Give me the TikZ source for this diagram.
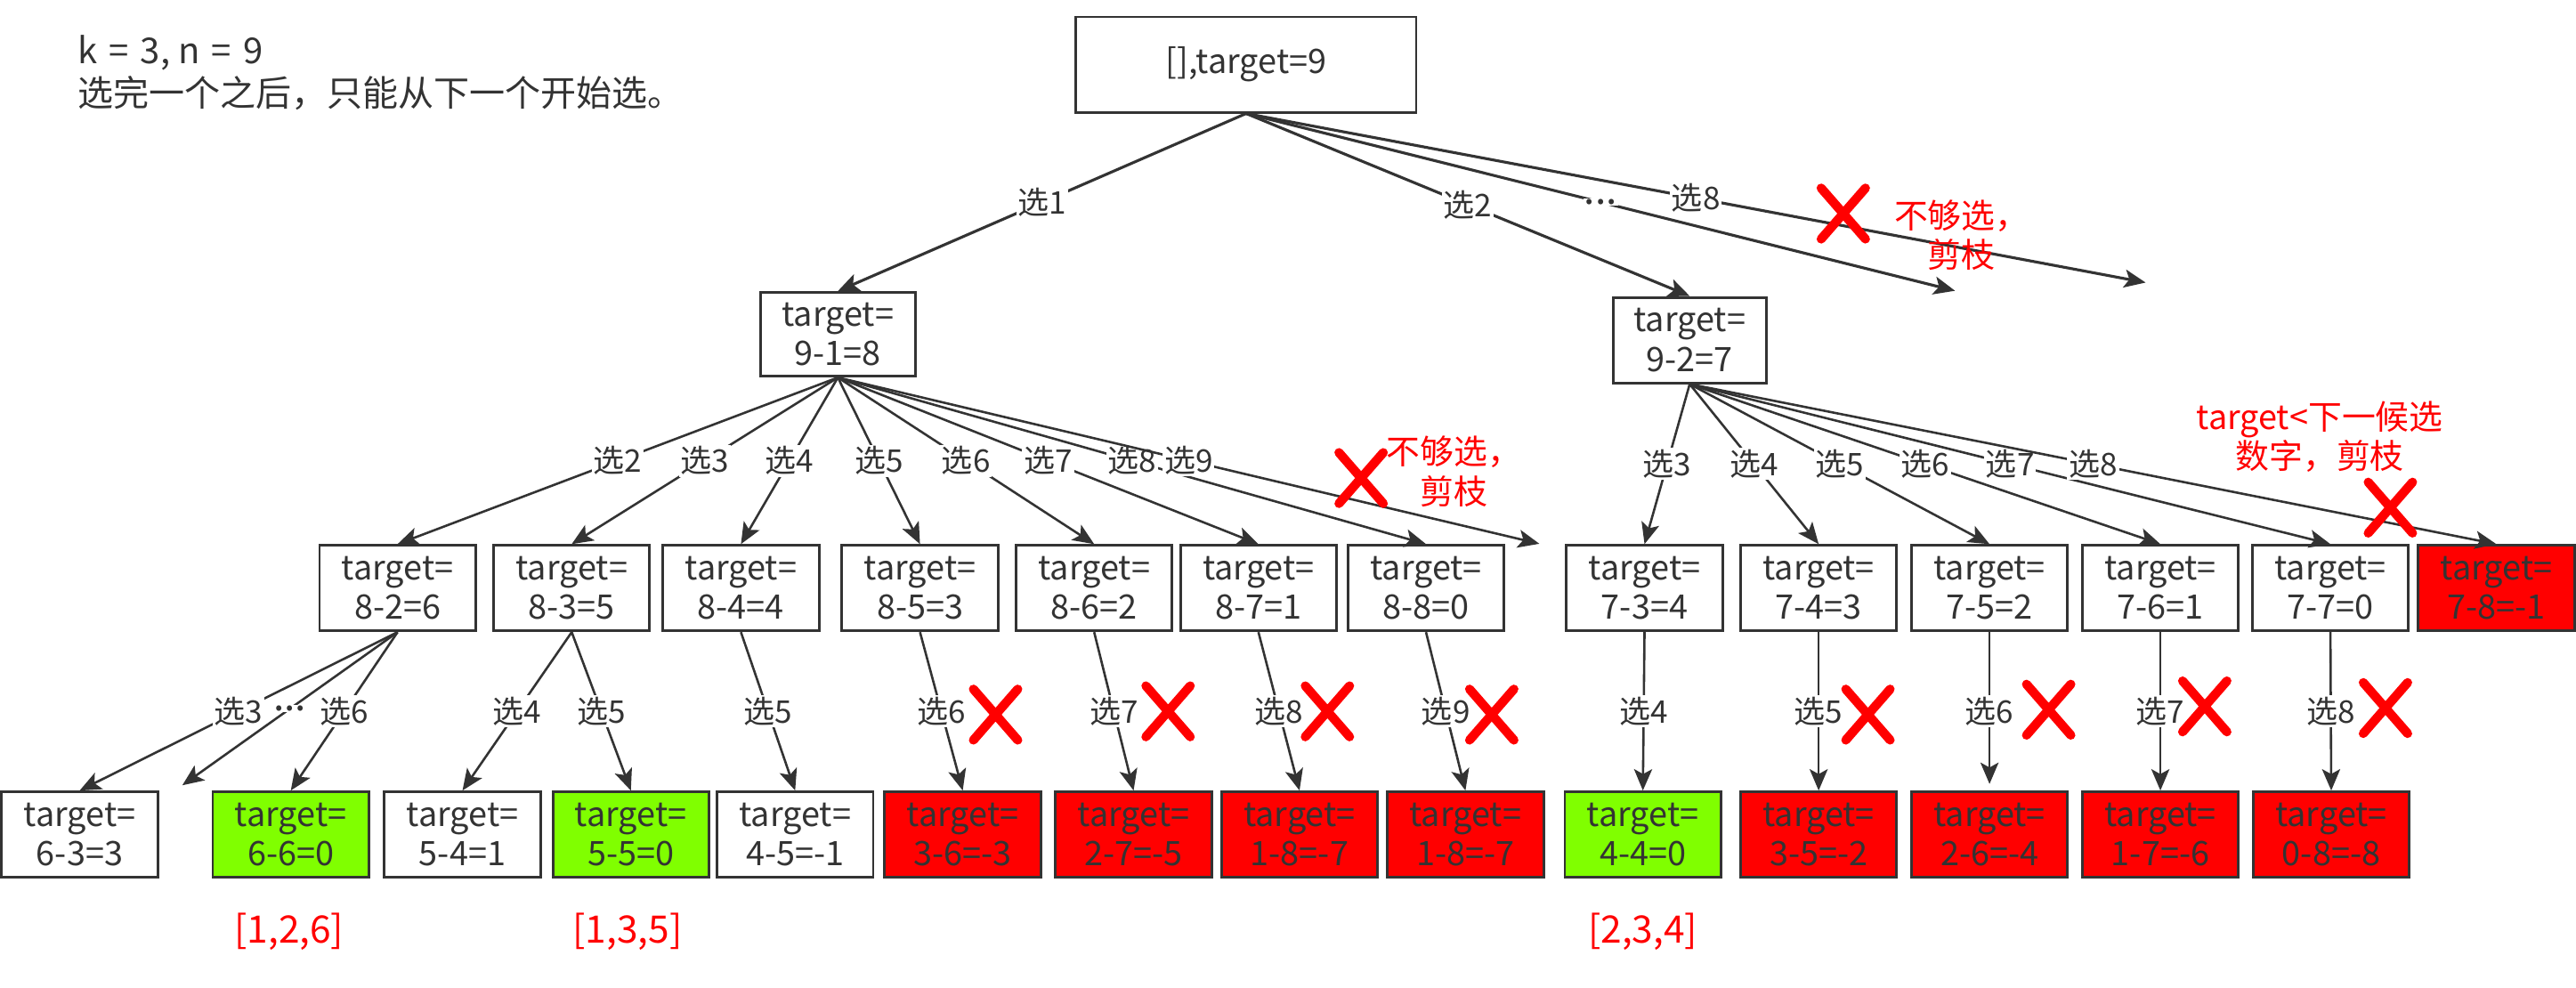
\documentclass[tikz,border=0pt]{standalone}
\usepackage{fontspec}
\setmainfont{Noto Sans CJK SC}
\usetikzlibrary{arrows.meta}
\definecolor{ink}{HTML}{333333}
\definecolor{okgreen}{HTML}{80FF00}
\definecolor{badred}{HTML}{FF0000}
\newcommand\nfont{\fontsize{20.5}{24}\selectfont}
\newcommand\lfont{\fontsize{19}{22}\selectfont}
\newcommand\tfont{\fontsize{21.7}{26}\selectfont}
\newcommand\rfont{\fontsize{23}{26}\selectfont}
\newcommand\dfont{\fontsize{24}{22}\selectfont}
\newcommand\gap{\hspace{0.33em}}
\begin{document}
\begin{tikzpicture}[x=1pt,y=-1pt,
 tbox/.style={draw=ink, line width=1.6pt, minimum width=95pt, minimum height=52pt, inner sep=0pt, align=center, text=ink, font=\nfont},
 okbox/.style={tbox, fill=okgreen},
 badbox/.style={tbox, fill=badred},
 lbl/.style={fill=white, inner sep=1pt, text=ink, font=\lfont},
 dots/.style={lbl, font=\dfont, inner sep=0.5pt},
 conn/.style={draw=ink, line width=1.4pt, -{Stealth[length=13pt,width=11pt,inset=3pt]}},
 rnote/.style={text=badred, font=\nfont, align=center},
 res/.style={text=badred, font=\rfont},
 redx/.pic={\draw[badred, line width=5.5pt, line cap=round] (-13.5,-15.5) -- (13.5,15.5) (-13.5,15.5) -- (13.5,-15.5);}
]
\useasboundingbox (0,0) rectangle (1568,601);

% header text
\node[anchor=base west, inner sep=0pt, text=ink, font=\tfont] (info1) at (47,39) {k\gap=\gap3, n\gap=\gap9};
\node[anchor=base west, inner sep=0pt, text=ink, font=\tfont] (info2) at (47,65) {选完一个之后，只能从下一个开始选。};

% root and level 1
\node[tbox, minimum width=207pt, minimum height=58pt] (root) at (758.5,39.3) {[],target=9};
\node[tbox, minimum width=94pt, minimum height=51pt] (A) at (510,203.5) {target=\\9-1=8};
\node[tbox, minimum width=93pt] (B) at (1028.5,207) {target=\\9-2=7};
\coordinate (c1) at (1190,177);
\coordinate (c2) at (1306,172);

\draw[conn, line width=1.7pt] (root.south) -- node[lbl]{选1} (A.north);
\draw[conn, line width=1.7pt] (root.south) -- node[lbl]{选2} (B.north);
\draw[conn, line width=1.7pt] (root.south) -- node[dots]{...} (c1);
\draw[conn, line width=1.7pt] (root.south) -- node[lbl]{选8} (c2);
\pic at (1122,130) {redx};
\node[rnote] (n1) at (1194,143) {不够选，\\剪枝};

% level 2
\node[tbox] (n82) at (242,358) {target=\\8-2=6};
\node[tbox] (n83) at (348,358) {target=\\8-3=5};
\node[tbox] (n84) at (451,358) {target=\\8-4=4};
\node[tbox] (n85) at (560,358) {target=\\8-5=3};
\node[tbox] (n86) at (666,358) {target=\\8-6=2};
\node[tbox] (n87) at (766,358) {target=\\8-7=1};
\node[tbox] (n88) at (868,358) {target=\\8-8=0};
\coordinate (c3) at (937,331);
\node[tbox] (n73) at (1001,358) {target=\\7-3=4};
\node[tbox] (n74) at (1107,358) {target=\\7-4=3};
\node[tbox] (n75) at (1211,358) {target=\\7-5=2};
\node[tbox] (n76) at (1315,358) {target=\\7-6=1};
\node[tbox] (n77) at (1418.5,358) {target=\\7-7=0};
\node[badbox] (n78) at (1519.5,358) {target=\\7-8=-1};

\draw[conn] (A.south) -- node[lbl]{选2} (n82.north);
\draw[conn] (A.south) -- node[lbl]{选3} (n83.north);
\draw[conn] (A.south) -- node[lbl]{选4} (n84.north);
\draw[conn] (A.south) -- node[lbl]{选5} (n85.north);
\draw[conn] (A.south) -- node[lbl]{选6} (n86.north);
\draw[conn] (A.south) -- node[lbl]{选7} (n87.north);
\draw[conn] (A.south) -- node[lbl]{选8} (n88.north);
\draw[conn] (A.south) -- node[lbl]{选9} (c3);
\pic at (828.5,291) {redx};
\node[rnote] (n2) at (885,287) {不够选，\\剪枝};

\draw[conn] (B.south) -- node[lbl]{选3} (n73.north);
\draw[conn] (B.south) -- node[lbl]{选4} (n74.north);
\draw[conn] (B.south) -- node[lbl]{选5} (n75.north);
\draw[conn] (B.south) -- node[lbl]{选6} (n76.north);
\draw[conn] (B.south) -- node[lbl]{选7} (n77.north);
\draw[conn] (B.south) -- node[lbl]{选8} (n78.north);
\node[rnote] (n3) at (1412,266) {target<下一候选\\数字，剪枝};
\pic at (1455,309) {redx};

% level 3
\node[tbox] (m63) at (48.5,508) {target=\\6-3=3};
\node[okbox] (m66) at (177,508) {target=\\6-6=0};
\node[tbox] (m54) at (281.5,508) {target=\\5-4=1};
\node[okbox] (m55) at (384,508) {target=\\5-5=0};
\node[tbox] (m45) at (484,508) {target=\\4-5=-1};
\node[badbox] (m36) at (586,508) {target=\\3-6=-3};
\node[badbox] (m27) at (690,508) {target=\\2-7=-5};
\node[badbox] (m18a) at (791,508) {target=\\1-8=-7};
\node[badbox] (m18b) at (892,508) {target=\\1-8=-7};
\node[okbox] (m44) at (1000,508) {target=\\4-4=0};
\node[badbox] (m35) at (1107,508) {target=\\3-5=-2};
\node[badbox] (m26) at (1211,508) {target=\\2-6=-4};
\node[badbox] (m17) at (1315,508) {target=\\1-7=-6};
\node[badbox] (m08) at (1419,508) {target=\\0-8=-8};
\coordinate (c4) at (111,478);

\draw[conn] (n82.south) -- node[lbl]{选3} (m63.north);
\draw[conn] (n82.south) -- node[dots]{...} (c4);
\draw[conn] (n82.south) -- node[lbl]{选6} (m66.north);
\draw[conn] (n83.south) -- node[lbl]{选4} (m54.north);
\draw[conn] (n83.south) -- node[lbl]{选5} (m55.north);
\draw[conn] (n84.south) -- node[lbl]{选5} (m45.north);
\draw[conn] (n85.south) -- node[lbl]{选6} (m36.north);
\draw[conn] (n86.south) -- node[lbl]{选7} (m27.north);
\draw[conn] (n87.south) -- node[lbl]{选8} (m18a.north);
\draw[conn] (n88.south) -- node[lbl]{选9} (m18b.north);
\draw[conn] (n73.south) -- node[lbl]{选4} (m44.north);
\draw[conn] (n74.south) -- node[lbl]{选5} (m35.north);
\draw[conn, shorten >=4pt] (n75.south) -- node[lbl]{选6} (m26.north);
\draw[conn] (n76.south) -- node[lbl]{选7} (m17.north);
\draw[conn] (n77.south) -- node[lbl]{选8} (m08.north);

\pic at (606,435) {redx};
\pic at (711,433) {redx};
\pic at (808,433) {redx};
\pic at (908,435) {redx};
\pic at (1137,435) {redx};
\pic at (1247,432) {redx};
\pic at (1342,430) {redx};
\pic at (1452,431) {redx};

% results
\node[res] (r1) at (176,567) {[1,2,6]};
\node[res] (r2) at (382,567) {[1,3,5]};
\node[res] (r3) at (1000,567) {[2,3,4]};
\end{tikzpicture}
\end{document}
